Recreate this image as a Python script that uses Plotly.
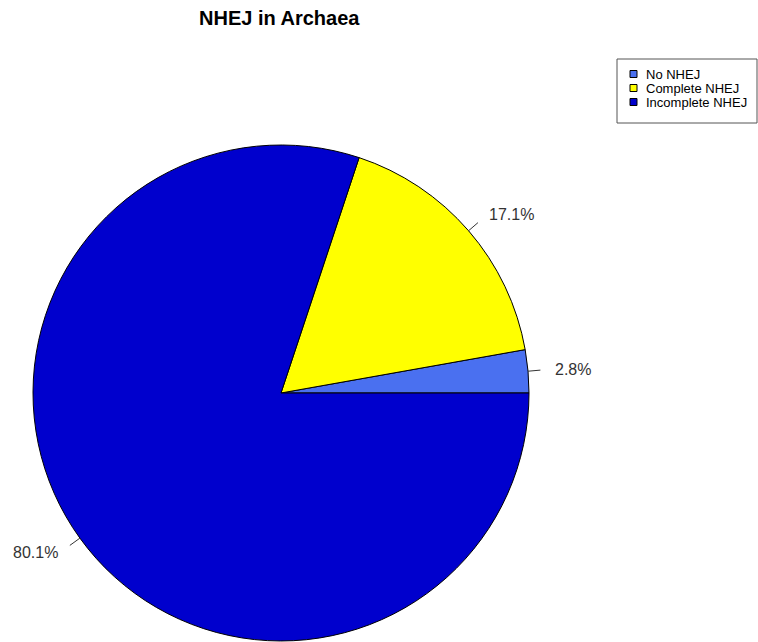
import math
import plotly.graph_objects as go

# ---- data ----
categories = ["No NHEJ", "Complete NHEJ", "Incomplete NHEJ"]
values = [2.8, 17.1, 80.1]
labels = ["2.8%", "17.1%", "80.1%"]
colors = ["#4A70F0", "#FFFF00", "#0000CD"]
title = "NHEJ in Archaea"

# ---- layout constants (pixels) ----
W, H = 758, 642
CX, CY, R = 281, 393, 248

def px(x):
    return x / W

def py(y):
    return 1 - y / H

total = sum(values)
# plotly's counterclockwise mode starts the first slice's far edge at `rotation`,
# so shift it so the first slice starts at 3 o'clock
rot = 90 - values[0] / total * 360

fig = go.Figure()
fig.add_trace(go.Pie(
    labels=categories, values=values, sort=False,
    direction="counterclockwise", rotation=rot,
    marker=dict(colors=colors, line=dict(color="black", width=1)),
    textinfo="none", hoverinfo="label+percent",
    domain=dict(x=[px(CX - R), px(CX + R)], y=[py(CY + R), py(CY - R)]),
    showlegend=False,
))

shapes = []
annotations = []

# percentage labels with leader lines, positioned from the data angles
cum = 0.0
for v, lab in zip(values, labels):
    mid = (cum + v / 2) / total * 2 * math.pi
    cum += v
    c, s = math.cos(mid), math.sin(mid)
    x0, y0 = CX + R * c, CY - R * s
    x1, y1 = CX + 1.05 * R * c, CY - 1.05 * R * s
    xt, yt = CX + 1.1 * R * c, CY - 1.1 * R * s
    shapes.append(dict(type="line", xref="paper", yref="paper",
                       x0=px(x0), y0=py(y0), x1=px(x1), y1=py(y1),
                       line=dict(color="#333333", width=1)))
    annotations.append(dict(x=px(xt), y=py(yt), xref="paper", yref="paper",
                            text=lab, showarrow=False,
                            xanchor="left" if c > 0 else "right", yanchor="middle",
                            font=dict(family="Liberation Sans, Arial", size=16, color="#333333")))

# legend drawn manually
LX0, LY0, LX1, LY1 = 617, 59, 757, 123
shapes.append(dict(type="rect", xref="paper", yref="paper",
                   x0=px(LX0), y0=py(LY1), x1=px(LX1), y1=py(LY0),
                   line=dict(color="#555555", width=1), fillcolor="white"))
row0, step = 74, 14
for i, (cat, col) in enumerate(zip(categories, colors)):
    yc = row0 + i * step
    shapes.append(dict(type="rect", xref="paper", yref="paper",
                       x0=px(630), y0=py(yc + 3.5), x1=px(637), y1=py(yc - 3.5),
                       line=dict(color="black", width=1), fillcolor=col))
    annotations.append(dict(x=px(644), y=py(yc), xref="paper", yref="paper",
                            text=cat, showarrow=False, xanchor="left", yanchor="middle",
                            font=dict(family="Liberation Sans, Arial", size=13, color="black")))

# title
annotations.append(dict(x=px(279), y=py(18), xref="paper", yref="paper",
                        text="<b>" + title + "</b>", showarrow=False,
                        xanchor="center", yanchor="middle",
                        font=dict(family="Liberation Sans, Arial", size=20, color="black")))

fig.update_layout(
    width=W, height=H,
    margin=dict(l=0, r=0, t=0, b=0),
    paper_bgcolor="white", plot_bgcolor="white",
    shapes=shapes, annotations=annotations,
    showlegend=False,
)

fig.write_html("out.html")
